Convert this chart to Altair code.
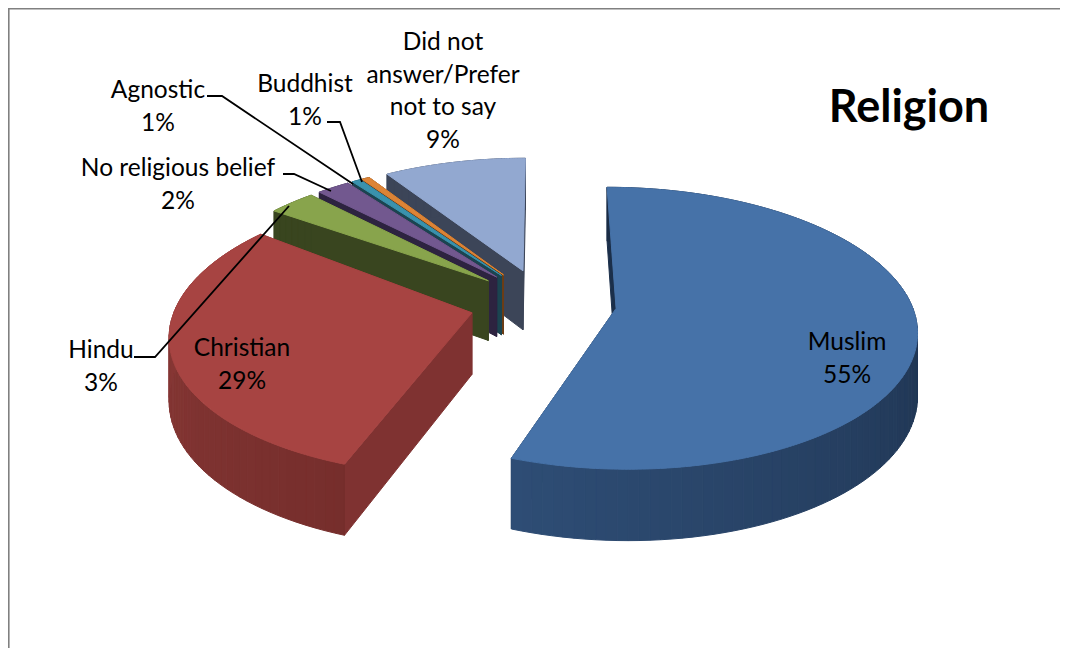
import math
import altair as alt
import pandas as pd

categories = ["Muslim", "Christian", "Hindu", "No religious belief", "Agnostic", "Buddhist",
              "Did not answer/Prefer not to say"]
percent = [55.5, 29.3, 3.0, 2.1, 0.55, 0.5, 9.05]
end_trim = [0, -0.7, 0, 0, 0, 0, 0]
label_text = ["Muslim\n55%", "Christian\n29%", "Hindu\n3%", "No religious belief\n2%",
              "Agnostic\n1%", "Buddhist\n1%", "Did not\nanswer/Prefer\nnot to say\n9%"]
top_colors = ["#4672a8", "#a74442", "#88a44c", "#72588f", "#3a92ad", "#dd8436", "#92a8d0"]
wall_colors = ["#1b2f4a", "#7f3231", "#39451f", "#2d2340", "#1b4450", "#6b3d16", "#3c4558"]
rim_from = ["#2e4d75", "#8f3c3a", "#39451f", "#2d2340", "#1b4450", "#6b3d16", "#3c4558"]
rim_to = ["#1a2c45", "#762e2c", "#39451f", "#2d2340", "#1b4450", "#6b3d16", "#3c4558"]

# layout of the 3-D view, in page pixels
CX, CY, RX, RY, K, DEPTH, EXPLODE = 543.0, 302.5, 295.0, 136.5, 0.14, 61.0, 0.25
label_x = [847, 242, 101, 178, 158, 305, 443]
label_y = [343, 349, 351, 169, 91, 85, 43]
leader_paths = [
    [(134, 357), (155, 357), (289, 206)],
    [(283, 174), (294, 174), (331, 191)],
    [(207, 96), (222, 96), (353, 184)],
    [(327, 122), (340, 122), (362, 182)],
]


def project(u, v, h=0.0):
    w = 1 - K * v
    return CX + RX * u / w, CY + RY * v / w + DEPTH * h / w


def mix(a, b, t):
    pa = [int(a[i:i + 2], 16) for i in (1, 3, 5)]
    pb = [int(b[i:i + 2], 16) for i in (1, 3, 5)]
    return "#" + "".join(f"{round(x + (y - x) * t):02x}" for x, y in zip(pa, pb))


rows = []
pid = [0]


def poly(points, color):
    closed = list(points) + [points[0]]
    for i, (x, y) in enumerate(closed):
        rows.append({"x": x, "y": y, "pid": pid[0], "i": i, "c": color})
    pid[0] += 1


starts = []
acc = 0
for p in percent:
    starts.append(acc)
    acc += p

# painter's order: back slices first, the two big slices last
for s in [6, 5, 4, 3, 2, 1, 0]:
    a0 = starts[s] / 100 * 2 * math.pi
    a1 = (starts[s] + percent[s]) / 100 * 2 * math.pi
    mid = (a0 + a1) / 2
    ox, oy = EXPLODE * math.sin(mid), -EXPLODE * math.cos(mid)
    a1 -= end_trim[s] / 100 * 2 * math.pi
    rim = lambda a: (ox + math.sin(a), oy - math.cos(a))
    n = max(3, int(percent[s] * 2))
    angles = [a0 + (a1 - a0) * j / n for j in range(n + 1)]
    # cut walls
    for a in (a1, a0):
        ru, rv = rim(a)
        poly([project(ox, oy), project(ru, rv), project(ru, rv, 1), project(ox, oy, 1)], wall_colors[s])
    # outer wall, shaded strip by strip
    for j in range(n):
        u0, v0 = rim(angles[j])
        u1, v1 = rim(angles[j + 1])
        t = 1 - (j + 0.5) / n
        if s == 0:
            t = min(1, t * 1.4)
        color = mix(rim_from[s], rim_to[s], t) if s != 1 else mix(rim_to[s], rim_from[s], (j + 0.5) / n)
        poly([project(u0, v0), project(u1, v1), project(u1, v1, 1), project(u0, v0, 1)], color)
    # top face
    outline = [project(ox, oy)] + [project(*rim(a0 + (a1 - a0) * j / (n * 3))) for j in range(n * 3 + 1)]
    poly(outline, top_colors[s])

shapes = pd.DataFrame(rows)

x_scale = alt.Scale(domain=[8, 1060], range=[0, 1052])
y_scale = alt.Scale(domain=[8, 648], range=[0, 640])

pie = alt.Chart(shapes).mark_line(filled=True, strokeWidth=1.0, interpolate="linear").encode(
    x=alt.X("x:Q", scale=x_scale, axis=None),
    y=alt.Y("y:Q", scale=y_scale, axis=None),
    detail="pid:N",
    order="i:Q",
    fill=alt.Fill("c:N", scale=None),
    stroke=alt.Stroke("c:N", scale=None),
)

leader_rows = [
    {"x": x, "y": y, "k": n, "i": i}
    for n, path in enumerate(leader_paths)
    for i, (x, y) in enumerate(path)
]
leaders = alt.Chart(pd.DataFrame(leader_rows)).mark_line(color="#000000", strokeWidth=1.8).encode(
    x=alt.X("x:Q", scale=x_scale, axis=None),
    y=alt.Y("y:Q", scale=y_scale, axis=None),
    detail="k:N",
    order="i:Q",
)

labels = alt.Chart(pd.DataFrame({"x": label_x, "y": label_y, "t": label_text})).transform_calculate(
    lines="split(datum.t, '\\n')"
).mark_text(font="Lato", fontSize=24.5, lineHeight=32.5, color="#000000", align="center", baseline="middle").encode(
    x=alt.X("x:Q", scale=x_scale, axis=None),
    y=alt.Y("y:Q", scale=y_scale, axis=None),
    text="lines:N",
)

title = alt.Chart(pd.DataFrame({"x": [909], "y": [108], "t": ["Religion"]})).mark_text(
    font="Lato", fontSize=45, fontWeight="bold", color="#000000", align="center", baseline="middle"
).encode(
    x=alt.X("x:Q", scale=x_scale, axis=None),
    y=alt.Y("y:Q", scale=y_scale, axis=None),
    text="t:N",
)

frame_top = alt.Chart(pd.DataFrame({"x": [8], "x2": [1060], "y": [8.8]})).mark_rule(
    color="#808080", strokeWidth=1.6
).encode(
    x=alt.X("x:Q", scale=x_scale, axis=None), x2="x2:Q", y=alt.Y("y:Q", scale=y_scale, axis=None)
)
frame_left = alt.Chart(pd.DataFrame({"x": [8.8], "y": [8], "y2": [648]})).mark_rule(
    color="#808080", strokeWidth=1.6
).encode(
    x=alt.X("x:Q", scale=x_scale, axis=None), y=alt.Y("y:Q", scale=y_scale, axis=None), y2="y2:Q"
)

chart = alt.layer(frame_top, frame_left, pie, leaders, labels, title).properties(
    width=1052, height=640, padding=0, autosize=alt.AutoSizeParams(type="none"),
    background="#ffffff",
).configure_view(stroke=None)

chart.save("out.html", embed_options={"renderer": "svg", "actions": False})
